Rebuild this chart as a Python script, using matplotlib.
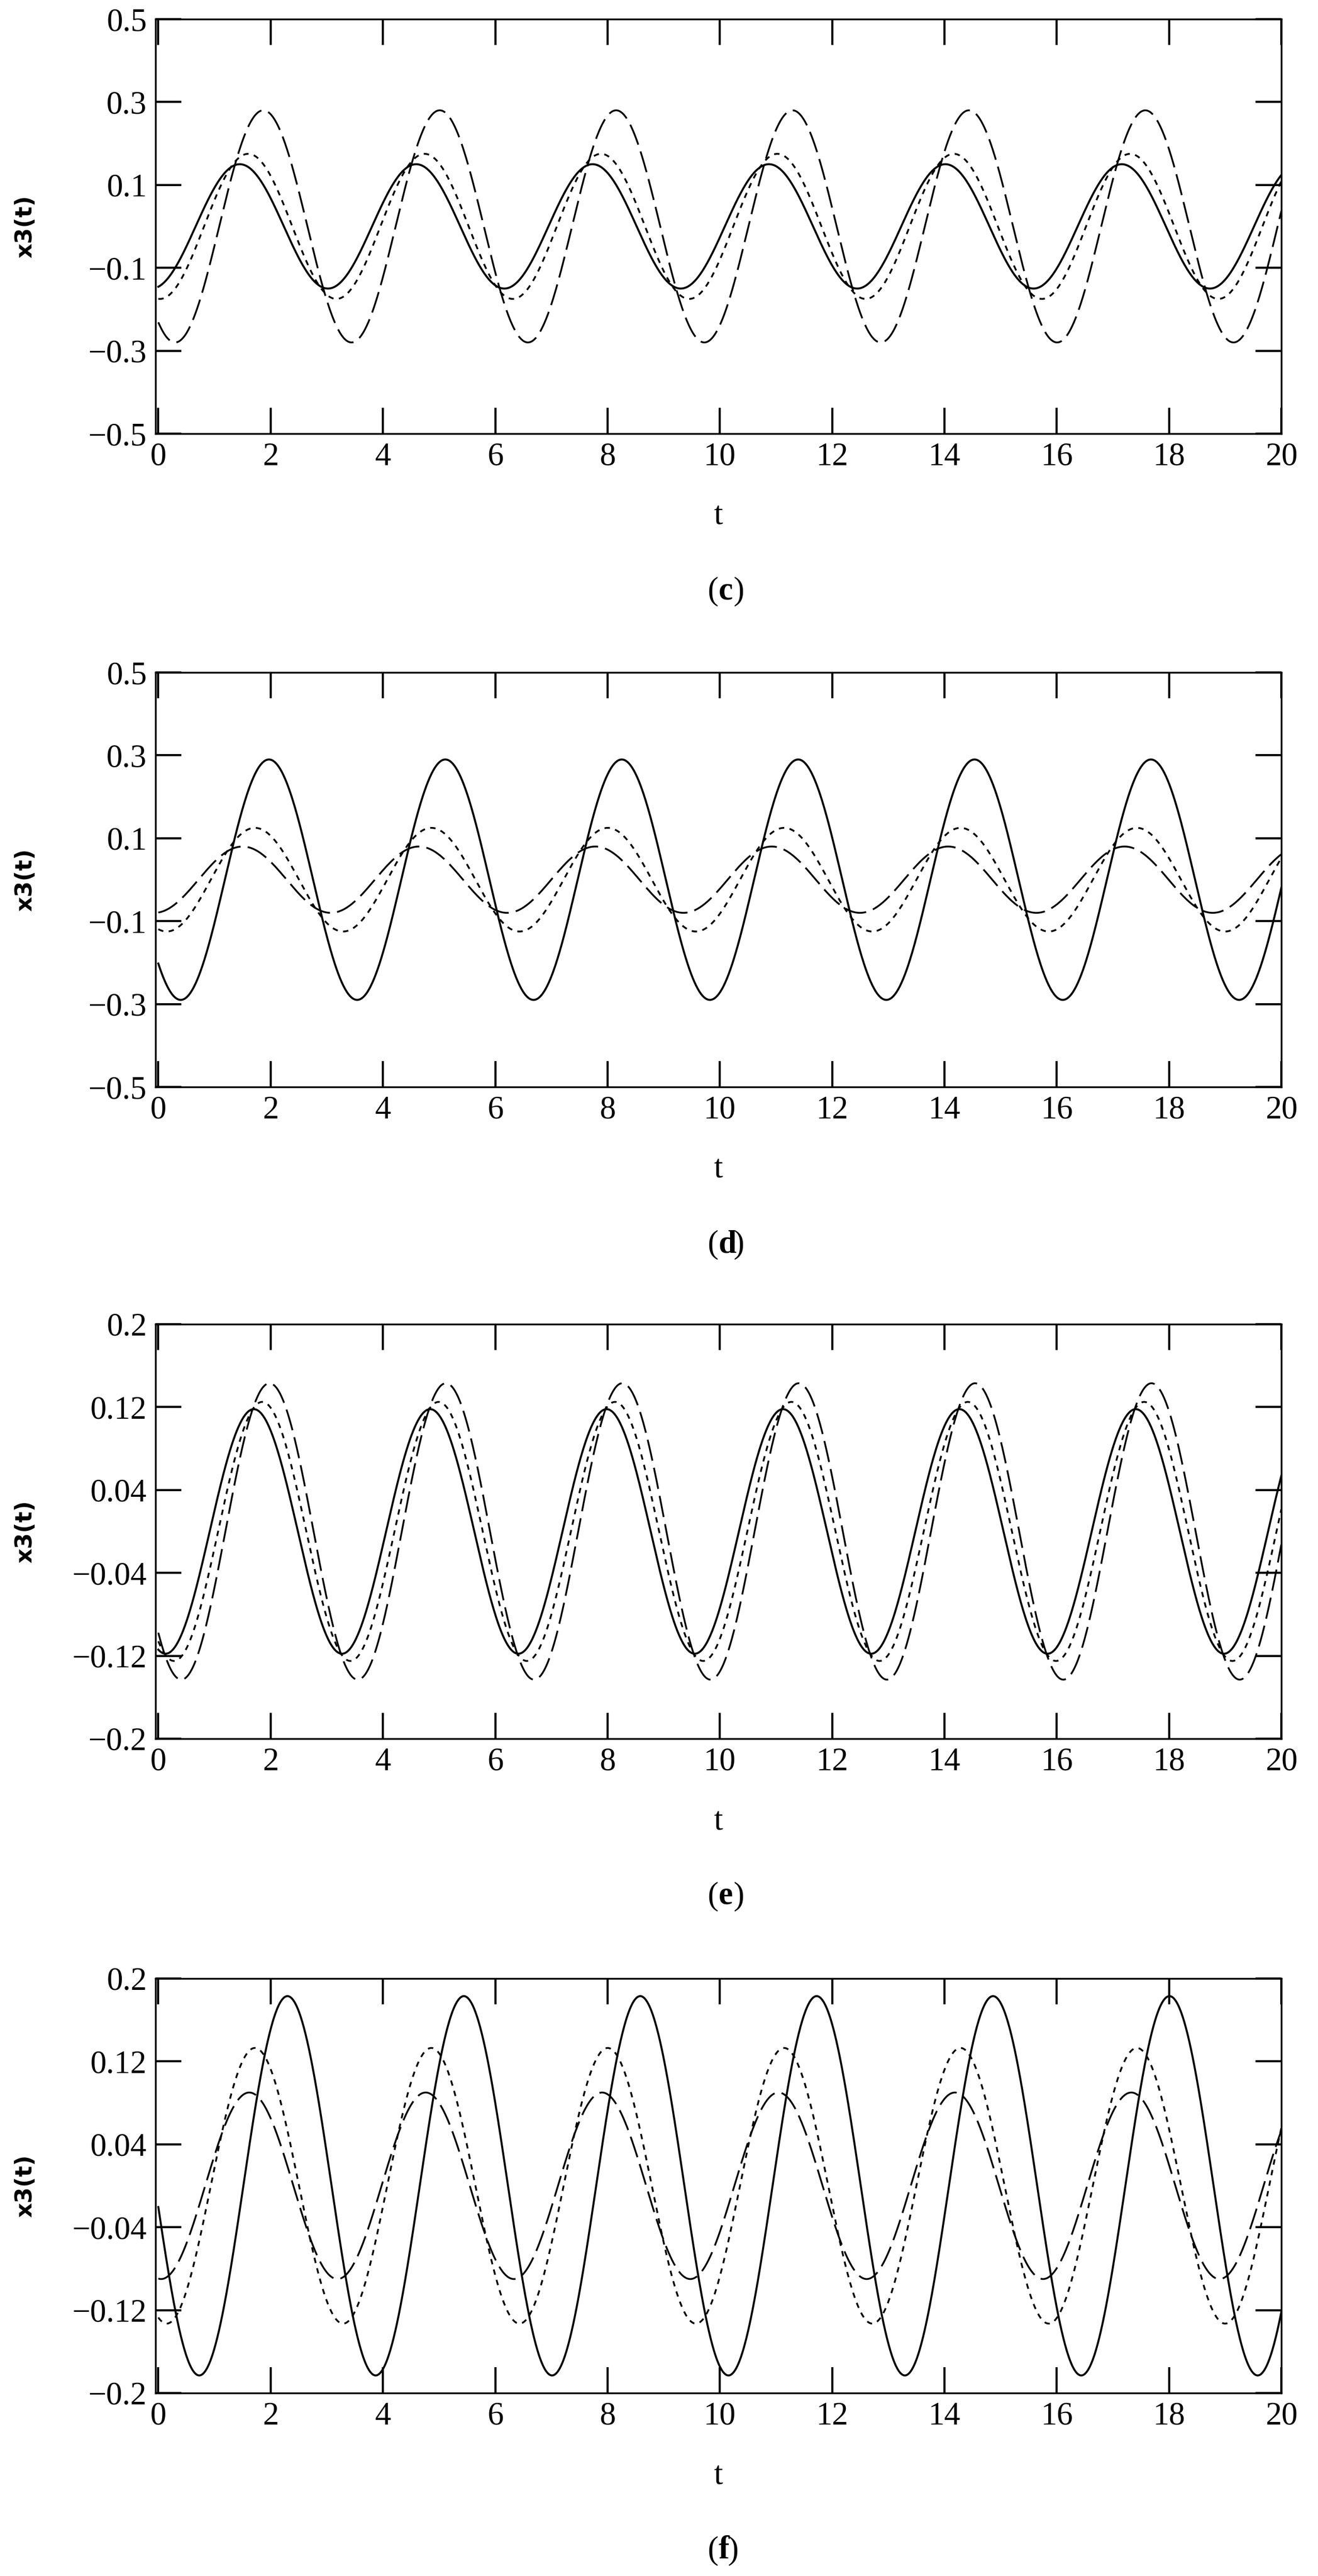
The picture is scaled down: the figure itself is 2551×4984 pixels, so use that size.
import numpy as np
import matplotlib.pyplot as plt

plt.rcParams['font.family'] = ['Liberation Serif', 'DejaVu Serif']

# time axis samples
t = np.linspace(0, 20, 2000)
omega = 2.0  # period ~ pi, read from peak spacing

panels = ['c', 'd', 'e', 'f']
# per panel: amplitudes and peak times for (solid, short dash, long dash)
amp_solid = [0.15, 0.29, 0.118, 0.183]
amp_short = [0.175, 0.125, 0.125, 0.133]
amp_long = [0.28, 0.08, 0.143, 0.09]
peak_solid = [1.45, 1.97, 1.7, 2.3]
peak_short = [1.6, 1.72, 1.85, 1.72]
peak_long = [1.87, 1.5, 1.98, 1.62]
ylims = [(-0.5, 0.5), (-0.5, 0.5), (-0.2, 0.2), (-0.2, 0.2)]
yticks = [[-0.5, -0.3, -0.1, 0.1, 0.3, 0.5],
          [-0.5, -0.3, -0.1, 0.1, 0.3, 0.5],
          [-0.2, -0.12, -0.04, 0.04, 0.12, 0.2],
          [-0.2, -0.12, -0.04, 0.04, 0.12, 0.2]]
xticks = list(range(0, 21, 2))

W, H = 2551.0, 4984.0
fig = plt.figure(figsize=(W / 100, H / 100), dpi=100)
tops = [37, 1301, 2562, 3828]
ph = 802
left, right = 301, 2480
fs = 45

for i, p in enumerate(panels):
    ax = fig.add_axes([left / W, 1 - (tops[i] + ph) / H, (right - left) / W, ph / H])
    ax.plot(t, amp_solid[i] * np.cos(omega * (t - peak_solid[i])), color='black', lw=2.8)
    ax.plot(t, amp_short[i] * np.cos(omega * (t - peak_short[i])), color='black', lw=2.5,
            dashes=(3, 3))
    ax.plot(t, amp_long[i] * np.cos(omega * (t - peak_long[i])), color='black', lw=2.5,
            dashes=(12, 4))
    ax.set_xlim(-0.05, 20)
    ax.set_ylim(*ylims[i])
    ax.set_xticks(xticks)
    ax.set_yticks(yticks[i])
    ax.set_yticklabels([('%g' % v).replace('-', '\u2212') for v in yticks[i]])
    ax.tick_params(direction='in', length=36, width=3, labelsize=fs, pad=12,
                   top=True, right=True)
    for s in ax.spines.values():
        s.set_linewidth(2.5)
    xc = (left + right) / 2 / W
    fig.text(xc, 1 - (tops[i] + ph + 160) / H, 't', fontsize=fs, ha='center', va='center')
    fig.text(49 / W, 1 - (tops[i] + ph / 2) / H, 'x3(t)', fontsize=32, fontweight='bold',
             family='DejaVu Sans', rotation=90, ha='center', va='center')
    cap_y = 1 - (tops[i] + ph + 305) / H
    fig.text(xc, cap_y, '(', fontsize=fs, ha='right', va='center')
    fig.text(xc, cap_y, p, fontsize=fs, fontweight='bold', ha='left', va='center')
    fig.text(xc + (0.47 if p != 'f' else 0.3) * fs * 1.39 / W, cap_y, ')', fontsize=fs,
             ha='left', va='center')

fig.savefig('out.png', dpi=100)
